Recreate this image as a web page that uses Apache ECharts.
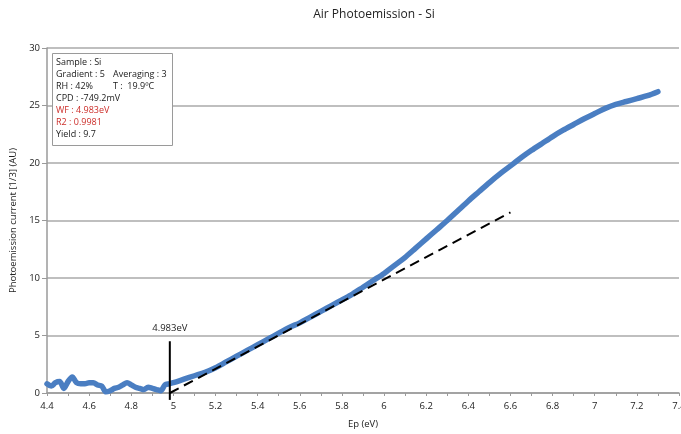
<!DOCTYPE html>
<html>
<head>
<meta charset="utf-8">
<script src="https://cdn.jsdelivr.net/npm/echarts@6/dist/echarts.min.js"></script>
<style>
  html, body { margin: 0; padding: 0; background: #fff; }
  #chart { width: 681px; height: 434px; }
</style>
</head>
<body>
<div id="chart"></div>
<script>
// Photon energy (eV) and measured photoemission current^(1/3) (AU)
const energy = [
  4.40, 4.42, 4.44, 4.46, 4.48, 4.50, 4.52, 4.54, 4.56, 4.58,
  4.60, 4.62, 4.64, 4.66, 4.68, 4.70, 4.72, 4.74, 4.76, 4.78,
  4.80, 4.82, 4.84, 4.86, 4.88, 4.90, 4.92, 4.94, 4.96, 4.98,
  5.00, 5.05, 5.10, 5.15, 5.20, 5.25, 5.30, 5.35, 5.40, 5.45,
  5.50, 5.55, 5.60, 5.65, 5.70, 5.75, 5.80, 5.85, 5.90, 5.95,
  6.00, 6.05, 6.10, 6.15, 6.20, 6.25, 6.30, 6.35, 6.40, 6.45,
  6.50, 6.55, 6.60, 6.65, 6.70, 6.75, 6.80, 6.85, 6.90, 6.95,
  7.00, 7.05, 7.10, 7.15, 7.20, 7.25, 7.30
];
const current = [
  0.8, 0.6, 0.9, 1.0, 0.4, 1.0, 1.4, 0.9, 0.8, 0.8,
  0.9, 0.9, 0.7, 0.6, 0.1, 0.2, 0.4, 0.5, 0.7, 0.9,
  0.7, 0.5, 0.4, 0.3, 0.5, 0.4, 0.3, 0.2, 0.7, 0.8,
  0.9, 1.2, 1.5, 1.8, 2.2, 2.7, 3.2, 3.7, 4.2, 4.7,
  5.2, 5.7, 6.1, 6.6, 7.1, 7.6, 8.1, 8.6, 9.2, 9.8,
  10.4, 11.1, 11.8, 12.6, 13.4, 14.2, 15.0, 15.85, 16.7, 17.5,
  18.3, 19.05, 19.75, 20.45, 21.1, 21.7, 22.3, 22.85, 23.35, 23.85,
  24.3, 24.75, 25.1, 25.35, 25.6, 25.85, 26.2
];

// Work function threshold and linear fit
const workFunction = 4.983;
const fitLine = [[4.983, 0], [6.6, 15.7]];
const thresholdMarker = [[4.983, -0.6], [4.983, 4.5]];

// Axis ranges and ticks
const xRange = [4.4, 7.4];
const xStep = 0.2;
const yRange = [0, 30];
const yStep = 5;

// Measurement summary
const infoLines = [
  { text: 'Sample : Si', red: false },
  { text: 'Gradient : 5', extra: 'Averaging : 3', red: false },
  { text: 'RH : 42%', extra: 'T :  19.9ºC', red: false },
  { text: 'CPD : -749.2mV', red: false },
  { text: 'WF : 4.983eV', red: true },
  { text: 'R2 : 0.9981', red: true },
  { text: 'Yield : 9.7', red: false }
];

const FONT = 'Open Sans';
const chart = echarts.init(document.getElementById('chart'), null, { renderer: 'canvas' });

const infoGraphics = [{
  type: 'rect',
  left: 52, top: 53,
  shape: { width: 120, height: 92 },
  style: { fill: '#fff', stroke: '#9a9a9a', lineWidth: 1 },
  z: 10
}];
infoLines.forEach((ln, i) => {
  const y = 58 + i * 12;
  infoGraphics.push({
    type: 'text', left: 56, top: y, z: 11,
    style: { text: ln.text, fill: ln.red ? '#cc2e2a' : '#1a1a1a', font: '9px "' + FONT + '"' }
  });
  if (ln.extra) {
    infoGraphics.push({
      type: 'text', left: 113, top: y, z: 11,
      style: { text: ln.extra, fill: '#1a1a1a', font: '9px "' + FONT + '"' }
    });
  }
});

const option = {
  backgroundColor: '#fff',
  animation: false,
  textStyle: { fontFamily: FONT },
  title: {
    text: 'Air Photoemission - Si',
    left: 369, top: 4, textAlign: 'center',
    textStyle: { fontFamily: FONT, fontSize: 12, fontWeight: 'normal', color: '#222' }
  },
  grid: { left: 47, right: 2, top: 48, bottom: 41, containLabel: false, outerBoundsMode: 'none' },
  xAxis: {
    type: 'value',
    min: xRange[0], max: xRange[1], interval: xStep,
    name: 'Ep (eV)', nameLocation: 'middle', nameGap: 26,
    nameTextStyle: { fontFamily: FONT, fontSize: 9.5, color: '#222' },
    axisLine: { show: true, onZero: false, lineStyle: { color: '#9a9a9a', width: 1.5 } },
    axisTick: { show: true, length: 3, lineStyle: { color: '#9a9a9a' } },
    minorTick: { show: true, splitNumber: 2, length: 3, lineStyle: { color: '#9a9a9a' } },
    splitLine: { show: false },
    axisLabel: {
      fontFamily: FONT, fontSize: 9.5, color: '#222', margin: 8,
      hideOverlap: false,
      formatter: v => String(Math.round(v * 10) / 10)
    }
  },
  yAxis: {
    type: 'value',
    min: yRange[0], max: yRange[1], interval: yStep,
    name: 'Photoemission current [1/3] (AU)', nameLocation: 'middle', nameGap: 29,
    nameTextStyle: { fontFamily: FONT, fontSize: 9.5, color: '#222' },
    axisLine: { show: true, lineStyle: { color: '#9a9a9a', width: 1.5 } },
    axisTick: { show: true, inside: false, length: 5, lineStyle: { color: '#9a9a9a' } },
    splitLine: { show: true, lineStyle: { color: '#aaaaaa', width: 1.5 } },
    axisLabel: { fontFamily: FONT, fontSize: 9.5, color: '#222', margin: 7 }
  },
  series: [
    {
      name: 'Photoemission',
      type: 'line',
      data: energy.map((e, i) => [e, current[i]]),
      smooth: 0.3,
      showSymbol: false,
      lineStyle: { color: '#4a7ec2', width: 5.5, cap: 'round', join: 'round' },
      z: 2
    },
    {
      name: 'Fit',
      type: 'line',
      data: fitLine,
      showSymbol: false,
      lineStyle: { color: '#000', width: 2, type: [10, 6] },
      z: 3
    },
    {
      name: 'Threshold',
      type: 'line',
      data: thresholdMarker,
      clip: false,
      showSymbol: false,
      symbol: 'none',
      lineStyle: { color: '#000', width: 2 },
      label: { show: false },
      markPoint: {
        symbol: 'circle', symbolSize: 0,
        data: [{ coord: thresholdMarker[1] }],
        label: {
          show: true, position: 'top', distance: 8,
          formatter: () => workFunction + 'eV',
          fontFamily: FONT, fontSize: 9.5, color: '#222'
        }
      },
      z: 4
    }
  ],
  graphic: infoGraphics
};

chart.setOption(option);
</script>
</body>
</html>
